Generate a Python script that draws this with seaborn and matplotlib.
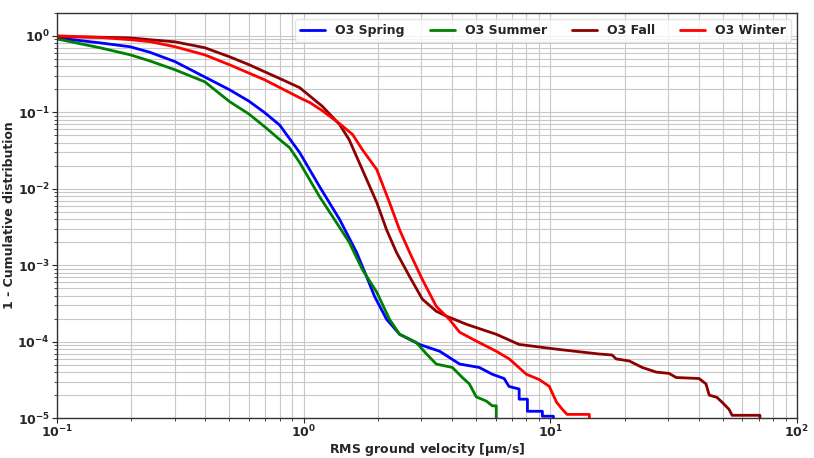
import numpy as np
import pandas as pd
import seaborn as sns
import matplotlib
matplotlib.use("Agg")
import matplotlib.pyplot as plt

# === Data (1 - CDF of RMS ground velocity) ===
spring_x = [0.100, 0.149, 0.198, 0.238, 0.301, 0.397, 0.501, 0.60, 0.695, 0.80, 0.964, 1.16,
            1.40, 1.64, 1.80, 1.94, 2.17, 2.45, 2.95, 3.56, 4.29, 5.16, 5.82, 6.5, 6.8, 7.48,
            7.48, 8.08, 8.08, 9.29, 9.29, 10.3, 10.3]
spring_y = [0.94, 0.81, 0.72, 0.61, 0.46, 0.29, 0.197, 0.14, 0.099, 0.068, 0.0297, 0.0107,
            0.00396, 0.00147, 7.1e-4, 3.9e-4, 1.96e-4, 1.25e-4, 9.2e-5, 7.5e-5, 5.1e-5, 4.6e-5,
            3.75e-5, 3.3e-5, 2.6e-5, 2.4e-5, 1.77e-5, 1.77e-5, 1.23e-5, 1.23e-5, 1.06e-5,
            1.06e-5, 1e-6]

summer_x = [0.100, 0.149, 0.198, 0.238, 0.301, 0.397, 0.501, 0.60, 0.695, 0.80, 0.877, 0.964,
            1.16, 1.36, 1.53, 1.73, 1.98, 2.23, 2.45, 2.86, 3.15, 3.45, 4.01, 4.40, 4.70, 5.01,
            5.51, 5.82, 6.04, 6.04]
summer_y = [0.91, 0.70, 0.565, 0.47, 0.36, 0.251, 0.138, 0.095, 0.0648, 0.044, 0.0345, 0.022,
            0.0079, 0.0036, 0.002, 8.8e-4, 4.43e-4, 1.96e-4, 1.25e-4, 9.8e-5, 6.9e-5, 5.1e-5,
            4.6e-5, 3.4e-5, 2.8e-5, 1.9e-5, 1.67e-5, 1.45e-5, 1.45e-5, 1e-6]

fall_x = [0.100, 0.149, 0.198, 0.238, 0.301, 0.397, 0.501, 0.60, 0.695, 0.822, 0.964, 1.19,
          1.40, 1.53, 1.73, 1.98, 2.17, 2.38, 2.69, 3.03, 3.45, 3.79, 4.57, 6.04, 7.48, 10.9,
          15.8, 17.8, 18.5, 20.9, 23.6, 26.9, 30.3, 32.4, 40.1, 42.8, 44.1, 47.4, 49.7, 53.1,
          54.6, 70.8, 70.8]
fall_y = [0.97, 0.96, 0.94, 0.89, 0.835, 0.70, 0.532, 0.42, 0.339, 0.266, 0.21, 0.12,
          0.069, 0.0438, 0.0178, 0.0066, 0.0029, 0.00147, 7.1e-4, 3.6e-4, 2.5e-4, 2.16e-4,
          1.69e-4, 1.25e-4, 9.2e-5, 7.9e-5, 6.9e-5, 6.7e-5, 5.95e-5, 5.6e-5, 4.6e-5, 4.0e-5,
          3.85e-5, 3.4e-5, 3.3e-5, 2.8e-5, 2.0e-5, 1.87e-5, 1.62e-5, 1.3e-5, 1.09e-5,
          1.09e-5, 1e-6]

winter_x = [0.100, 0.149, 0.198, 0.238, 0.301, 0.397, 0.501, 0.695, 0.964, 1.06, 1.19, 1.40,
            1.58, 1.73, 1.98, 2.23, 2.45, 2.69, 3.03, 3.45, 3.90, 4.29, 5.01, 6.04, 6.82, 8.00,
            9.02, 9.91, 10.6, 11.2, 11.7, 14.4, 14.4]
winter_y = [1.0, 0.955, 0.89, 0.84, 0.72, 0.565, 0.418, 0.266, 0.155, 0.134, 0.105, 0.071,
            0.0512, 0.0325, 0.0178, 0.0066, 0.0029, 0.00147, 6.5e-4, 2.9e-4, 1.96e-4, 1.33e-4,
            1.02e-4, 7.5e-5, 5.95e-5, 3.75e-5, 3.2e-5, 2.6e-5, 1.62e-5, 1.3e-5, 1.12e-5,
            1.12e-5, 1e-6]

series = [
    ("O3 Spring", spring_x, spring_y, "blue"),
    ("O3 Summer", summer_x, summer_y, "green"),
    ("O3 Fall", fall_x, fall_y, "darkred"),
    ("O3 Winter", winter_x, winter_y, "red"),
]

# === Style ===
sns.set_style("ticks")
plt.rcParams["font.family"] = ["DejaVu Sans"]
plt.rcParams["font.weight"] = "bold"
plt.rcParams["axes.labelweight"] = "bold"
plt.rcParams["mathtext.default"] = "regular"

fig, ax = plt.subplots(figsize=(8.14, 4.58), dpi=100)
fig.subplots_adjust(left=0.070, right=0.979, top=0.972, bottom=0.087)

for name, xs, ys, col in series:
    sns.lineplot(x=xs, y=ys, ax=ax, color=col, lw=2, label=name,
                 sort=False, estimator=None)

ax.set_xscale("log")
ax.set_yscale("log")
ax.set_xlim(0.1, 100)
ax.set_ylim(1e-5, 2)
ax.grid(True, which="both", color="#c8c8c8", lw=0.8)
ax.set_axisbelow(True)

for sp in ax.spines.values():
    sp.set_color("#333333")
    sp.set_linewidth(1.0)

ax.tick_params(axis="both", which="major", labelsize=9, length=3.5, width=0.8)
ax.tick_params(axis="x", which="major", pad=0.8)
ax.tick_params(axis="y", which="major", pad=1.5)
ax.tick_params(axis="both", which="minor", length=2, width=0.6)
for lab in ax.get_xticklabels() + ax.get_yticklabels():
    lab.set_fontweight("bold")

ax.set_xlabel(r"RMS ground velocity [$\mu$m/s]", fontsize=9, fontweight="bold", labelpad=0)
ax.set_ylabel("1 - Cumulative distribution", fontsize=9, fontweight="bold", labelpad=1)

leg = ax.legend(loc="upper right", ncol=4, fontsize=9, frameon=True)
leg.get_frame().set_edgecolor("#dddddd")
for t in leg.get_texts():
    t.set_fontweight("bold")

plt.savefig("out.png", dpi=100)
